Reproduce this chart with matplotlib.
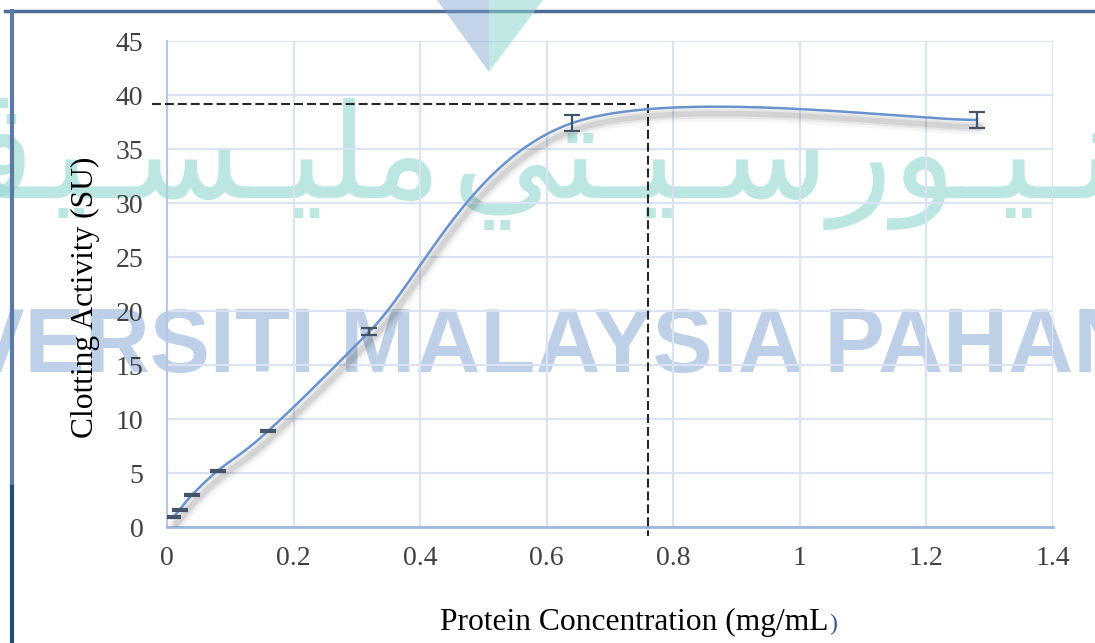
import numpy as np
import matplotlib
matplotlib.use('Agg')
import matplotlib.pyplot as plt
import matplotlib.patheffects as pe
from matplotlib.lines import Line2D
from matplotlib.patches import Polygon

conc = [0.01, 0.02, 0.04, 0.08, 0.16, 0.32, 0.64, 1.28]
activity = [0.9, 1.6, 3.0, 5.2, 8.9, 18.1, 37.4, 37.7]
err = [0.1, 0.1, 0.1, 0.1, 0.1, 0.3, 0.75, 0.75]
xticks = [0, 0.2, 0.4, 0.6, 0.8, 1, 1.2, 1.4]
xticklabels = ['0', '0.2', '0.4', '0.6', '0.8', '1', '1.2', '1.4']
yticks = [0, 5, 10, 15, 20, 25, 30, 35, 40, 45]
max_activity = 39.2
conc_at_max = 0.76


def smooth(xs, ys, n=60):
    # excel style smoothed line, one cubic bezier per pair of points
    p = np.column_stack([xs, ys])
    pe_ = np.vstack([p[0], p, p[-1]])
    t = np.linspace(0, 1, n)[:, None]
    segs = []
    for i in range(len(p) - 1):
        p0, p3 = p[i], p[i + 1]
        c1 = p0 + (pe_[i + 2] - pe_[i]) / 6
        c2 = p3 - (pe_[i + 3] - pe_[i + 1]) / 6
        segs.append((1 - t)**3 * p0 + 3 * (1 - t)**2 * t * c1 + 3 * (1 - t) * t**2 * c2 + t**3 * p3)
    pts = np.vstack(segs)
    return pts[:, 0], pts[:, 1]


plt.rcParams['font.family'] = ['Liberation Serif', 'DejaVu Serif']

fig = plt.figure(figsize=(10.95, 6.43), dpi=100)
ax = fig.add_axes([0.1525, 0.1804, 0.8091, 0.7558])
ax.patch.set_facecolor('none')

# university watermark behind the chart
W, H = 1095.0, 643.0
fig.text(-191 / W, 1 - 372 / H, 'UNIVERSITI MALAYSIA PAHANG', family='Liberation Sans',
         weight='bold', fontsize=65, color='#7FA2D0', alpha=0.5, ha='left', va='baseline', zorder=-2)

# jawi line, written with presentation forms (matplotlib does no arabic shaping)
k = '\u0640'
jawi_1 = '\uFEF3\uFEEE\uFEE7' + k + '\uFEF4' + k + '\uFEEE\uFEAD\uFEB3' + k + '\uFEF4' + k + '\uFE98\uFEF2'
jawi_2 = '\uFEE3\uFEE0\uFEF4' + k + '\uFEB4' + k + '\uFEF4' + k + '\uFE8E'
jawi_3 = '\uFB6C\uFEEC\uFECE'
for word, x, ha in [(jawi_3, 35, 'right'), (jawi_2, 442, 'right'), (jawi_1, 452, 'left')]:
    fig.text(x / W, 1 - 198 / H, word[::-1], family='DejaVu Sans', fontsize=95,
             color='#9EDCD6', alpha=0.7, ha=ha, va='baseline', zorder=-2)

# page frame
fig.add_artist(Line2D([5 / W, 1], [1 - 11 / H] * 2, color='#4F6E96', lw=2.5, zorder=5))
fig.add_artist(Line2D([12 / W] * 2, [1 - 11 / H, 1 - 487 / H], color='#5B7BA6', lw=3, zorder=5))
fig.add_artist(Line2D([12 / W] * 2, [1 - 487 / H, 0], color='#1F4E79', lw=3, zorder=5))
fig.add_artist(Polygon([(437 / W, 1), (489 / W, 1), (489 / W, 1 - 72 / H)], closed=True,
                       transform=fig.transFigure, color='#7FA2D0', alpha=0.45, lw=0, zorder=6))
fig.add_artist(Polygon([(489 / W, 1), (543 / W, 1), (489 / W, 1 - 72 / H)], closed=True,
                       transform=fig.transFigure, color='#8FD6D0', alpha=0.55, lw=0, zorder=6))

# chart
xs, ys = smooth(conc, activity)
ax.plot(xs, ys, color='#6A92CE', lw=1.8, zorder=4, solid_capstyle='round',
        path_effects=[pe.SimpleLineShadow(offset=(2, -5), shadow_color='k', alpha=0.04, linewidth=11),
                      pe.SimpleLineShadow(offset=(2, -5), shadow_color='k', alpha=0.06, linewidth=7),
                      pe.SimpleLineShadow(offset=(2, -5), shadow_color='k', alpha=0.08, linewidth=4),
                      pe.Normal()])
ax.errorbar(conc, activity, yerr=err, fmt='none', ecolor='#44546A', elinewidth=1.6,
            capsize=5.5, capthick=1.6, zorder=5)

ax.plot([-0.024, 0.74], [max_activity, max_activity], color='#262626', lw=1.5,
        ls=(0, (4.3, 1.9)), clip_on=False, zorder=3)
ax.plot([conc_at_max, conc_at_max], [max_activity, -0.8], color='#262626', lw=1.5,
        ls=(0, (4.3, 1.9)), clip_on=False, zorder=3)

ax.set_xlim(0, 1.4)
ax.set_ylim(0, 45)
ax.set_xticks(xticks)
ax.set_xticklabels(xticklabels)
ax.set_yticks(yticks)
ax.tick_params(length=0, labelsize=20, labelcolor='#404040')
ax.tick_params(axis='y', pad=17)
ax.tick_params(axis='x', pad=14)
ax.grid(True, color='#DAE3F3', lw=1.5, zorder=0)
ax.set_axisbelow(True)
for s in ['top', 'right']:
    ax.spines[s].set_visible(False)
ax.spines['left'].set_color('#B4C7E7')
ax.spines['left'].set_linewidth(1.5)
ax.spines['bottom'].set_color('#9DB7E2')
ax.spines['bottom'].set_linewidth(2)

fig.text(85 / W, 1 - 297 / H, 'Clotting Activity (SU)', rotation=90, fontsize=22.7,
         ha='center', va='center')
xl = fig.text(440 / W, 1 - 630 / H, 'Protein Concentration (mg/mL', fontsize=22.7,
              ha='left', va='baseline')
paren = fig.text(0, 1 - 630 / H, ')', fontsize=17, color='#2F5597', ha='left', va='baseline')
fig.canvas.draw()
bb = xl.get_window_extent()
paren.set_x((bb.x1 + 1) / fig.bbox.width)

fig.savefig('out.png', dpi=100)
